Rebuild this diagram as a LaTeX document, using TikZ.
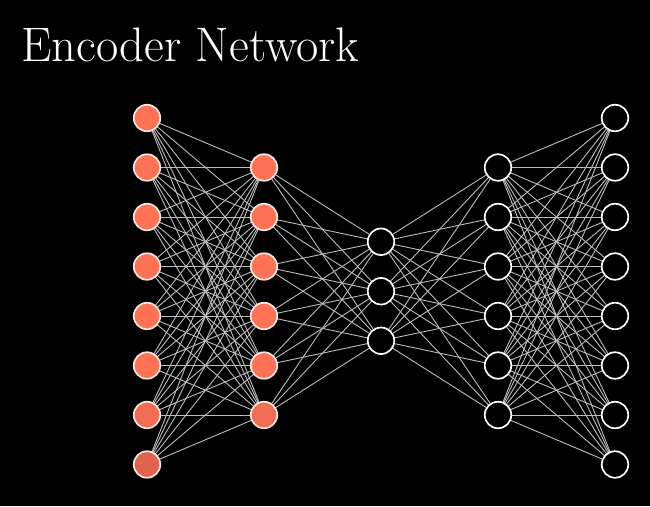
\documentclass[tikz,border=0pt]{standalone}
\definecolor{orgA}{HTML}{FF7256}
\definecolor{orgB}{HTML}{DA604D}
\definecolor{creamw}{HTML}{F6E9E2}
\definecolor{edgegray}{HTML}{BDBDBD}
\pgfdeclarelayer{bg}
\pgfsetlayers{bg,main}
\begin{document}
\begin{tikzpicture}[x=1pt,y=-1pt,
  neuron/.style={circle,minimum size=26.5pt,inner sep=0pt,line width=1.7pt},
  hot/.style={neuron,draw=creamw,fill=#1},
  cold/.style={neuron,draw=white,fill=black},
  link/.style={draw=edgegray,line width=0.9pt},
  titletext/.style={anchor=base west,text=white,inner sep=0pt,font=\fontsize{48.5}{55}\selectfont}]
\begin{pgfonlayer}{bg}
  \fill[black] (0,0) rectangle (650,506);
\end{pgfonlayer}
\useasboundingbox (0,0) rectangle (650,506);
\node[titletext] (title) at (21,61) {Encoder Network};
\foreach \l/\x/\n in {1/147/8,2/264/6,3/381/3,4/498/6,5/615/8} {
  \foreach \i in {1,...,\n} {
    \pgfmathsetmacro\yy{291.25+(\i-(\n+1)/2)*49.5}
    \pgfmathsetmacro\p{max(0,min(100,100-(\yy-380)*1.0))}
    \ifnum\l<3
      \node[hot=orgA!\p!orgB] (L\l-\i) at (\x,\yy) {};
    \else
      \node[cold] (L\l-\i) at (\x,\yy) {};
    \fi
  }
}
\begin{pgfonlayer}{bg}
\foreach \a/\na/\b/\nb in {1/8/2/6,2/6/3/3,3/3/4/6,4/6/5/8} {
  \foreach \i in {1,...,\na} {
    \foreach \j in {1,...,\nb} {
      \draw[link] (L\a-\i.center) -- (L\b-\j.center);
    }
  }
}
\end{pgfonlayer}
\end{tikzpicture}
\end{document}
